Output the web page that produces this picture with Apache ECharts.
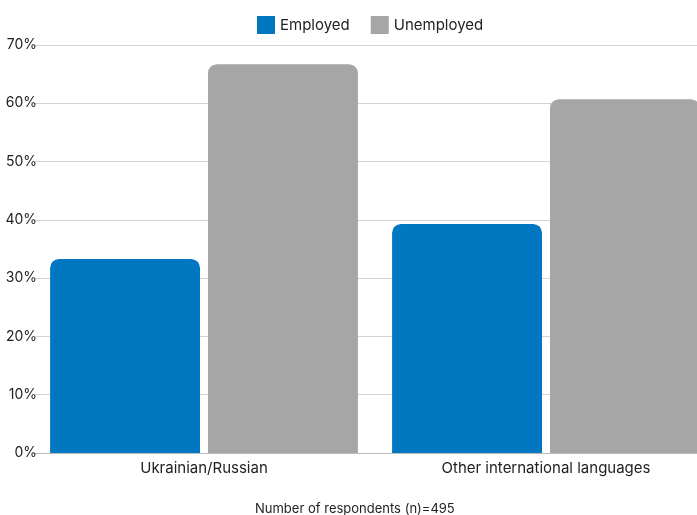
<!DOCTYPE html>
<html><head><meta charset="utf-8">
<script src="https://cdn.jsdelivr.net/npm/echarts@6/dist/echarts.min.js"></script>
<style>html,body{margin:0;padding:0;background:#fff;overflow:hidden}#c{width:717px;height:515px}</style>
</head><body><div id="c"></div>
<script>
const categories = ["Ukrainian/Russian", "Other international languages"];
const employed = [33.3, 39.3];
const unemployed = [66.7, 60.7];
const yTicks = [0, 10, 20, 30, 40, 50, 60, 70];
const note = "Number of respondents (n)=495";

const chart = echarts.init(document.getElementById('c'), null, {renderer: 'canvas'});
const font = 'Inter, "Noto Sans", sans-serif';
chart.setOption({
  animation: false,
  textStyle: {fontFamily: font},
  legend: {
    left: 252, top: 11,
    itemWidth: 18, itemHeight: 18, itemGap: 21,
    icon: 'rect',
    textStyle: {fontSize: 15, color: '#222', fontFamily: font},
    data: ['Employed', 'Unemployed']
  },
  title: {
    text: note, left: 250, bottom: -6,
    textStyle: {fontSize: 13, fontWeight: 'normal', color: '#222', fontFamily: font}
  },
  grid: {left: 33, right: 0, top: 45, bottom: 62, containLabel: false},
  xAxis: {
    type: 'category', data: categories,
    axisTick: {show: false},
    axisLine: {lineStyle: {color: '#bbb'}},
    axisLabel: {fontSize: 15, color: '#222', margin: 8, fontFamily: font}
  },
  yAxis: {
    type: 'value', min: yTicks[0], max: yTicks[yTicks.length - 1], interval: 10,
    axisLabel: {formatter: '{value}%', fontSize: 14, color: '#222', margin: -4, fontFamily: font},
    splitLine: {lineStyle: {color: '#d4d4d4'}},
    axisLine: {show: false}, axisTick: {show: false}
  },
  series: [
    {name: 'Employed', type: 'bar', data: employed, barGap: '5.3%', barCategoryGap: '10%',
     itemStyle: {color: '#0077c0', borderRadius: [9, 9, 0, 0]}},
    {name: 'Unemployed', type: 'bar', data: unemployed,
     itemStyle: {color: '#a6a6a6', borderRadius: [9, 9, 0, 0]}}
  ]
});
</script></body></html>
